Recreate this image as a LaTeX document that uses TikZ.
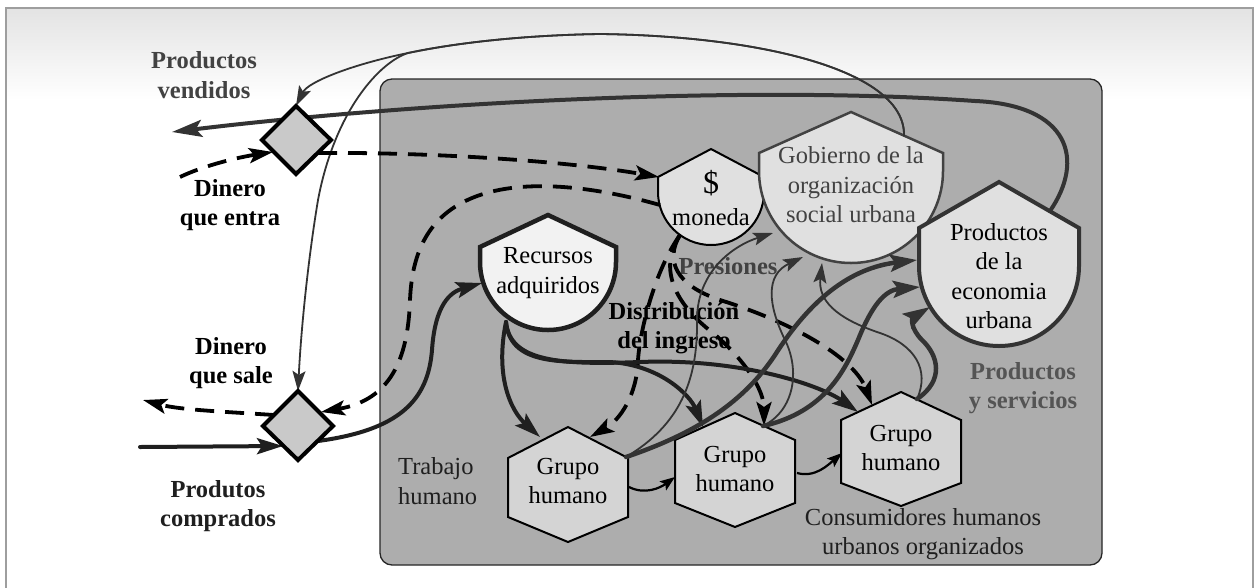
\documentclass[tikz,border=0pt]{standalone}
\usepackage{fontspec}
\setmainfont{Liberation Serif}
\usetikzlibrary{arrows.meta}

\definecolor{boxgray}{gray}{0.68}
\definecolor{hexfill}{gray}{0.83}
\definecolor{shieldfill}{gray}{0.88}
\definecolor{recfill}{gray}{0.95}
\definecolor{diafill}{gray}{0.79}
\definecolor{ink}{gray}{0.12}
\definecolor{inkgray}{gray}{0.2}
\definecolor{lblgray}{gray}{0.26}
\definecolor{pysgray}{gray}{0.33}
\definecolor{framegray}{gray}{0.62}
\definecolor{topshade}{gray}{0.89}

% shield: pointed roof over a half disc
% #1 style, #2 centre x, #3 apex y, #4 shoulder y, #5 disc centre y, #6 radius
\newcommand{\shieldshape}[6]{%
  \draw[#1] ({#2-#6},#4) -- (#2,#3) -- ({#2+#6},#4) -- ({#2+#6},#5)
    .. controls ({#2+#6},{#5+0.5523*#6}) and ({#2+0.5523*#6},{#5+#6}) .. (#2,{#5+#6})
    .. controls ({#2-0.5523*#6},{#5+#6}) and ({#2-#6},{#5+0.5523*#6}) .. ({#2-#6},#5) -- cycle;}

% pointy-top hexagon: #1 centre x, #2 top y, #3 upper side y, #4 lower side y, #5 bottom y, #6 half width
\newcommand{\hexshape}[6]{%
  \draw[hexstyle] (#1,#2) -- ({#1+#6},#3) -- ({#1+#6},#4) -- (#1,#5)
    -- ({#1-#6},#4) -- ({#1-#6},#3) -- cycle;}

\begin{document}
\begin{tikzpicture}[x=1pt,y=-1pt,
  txt/.style={inner sep=0pt, align=center, font=\fontsize{24.5}{29.5}\selectfont},
  btxt/.style={inner sep=0pt, align=center, font=\fontsize{24.5}{29.5}\selectfont\bfseries},
  hexstyle/.style={fill=hexfill, draw=black, line width=2pt, line join=miter},
  diastyle/.style={fill=diafill, draw=black, line width=4pt, line join=miter},
  moneylink/.style={line width=3.8pt, dash pattern=on 19pt off 11pt,
    -{Stealth[length=24pt,width=15pt,inset=5pt]}},
  goodslink/.style={draw=ink, line width=4pt, line cap=round,
    -{Stealth[length=26pt,width=16pt,inset=5pt]}},
  outlink/.style={draw=inkgray, line width=4pt, line cap=round,
    -{Stealth[length=30pt,width=17pt,inset=6pt]}},
  supplylink/.style={draw=inkgray, line width=4.5pt, line cap=round,
    -{Stealth[length=27pt,width=17pt,inset=5pt]}},
  thinlink/.style={draw=inkgray, line width=1.8pt,
    -{Stealth[length=20pt,width=13pt,inset=4pt]}},
  steplink/.style={draw=black, line width=2.2pt,
    -{Stealth[length=15pt,width=11pt,inset=3pt]}}]

\useasboundingbox (0,0) rectangle (1255,587);
\clip (0,0) rectangle (1255,587);

% page frame with a soft band along the top
\fill[white] (0,0) rectangle (1255,587);
\shade[top color=topshade, bottom color=white] (6,8) rectangle (1253,100);
\draw[framegray, line width=1.5pt] (6,8) rectangle (1253,600);

% the urban system
\draw[fill=boxgray, draw=black!85, line width=1.3pt, rounded corners=12pt]
  (380,79) rectangle (1102,565);

% labels
\node[btxt, text=lblgray] (vend) at (204,75) {Productos\\vendidos};
\node[btxt] (entra) at (230,205) {Dinero\\que entra};
\node[btxt] (sale) at (231,363) {Dinero\\que sale};
\node[btxt, text=ink] (comp) at (218,506) {Produtos\\comprados};
\node[txt, align=left, text=ink, anchor=west] (trab) at (398,481) {Trabajo\\humano};
\node[txt, text=ink] (cons) at (923,534) {Consumidores humanos\\urbanos organizados};
\node[btxt, text=pysgray] (pys) at (1023,388) {Productos\\y servicios};
\node[btxt, text=lblgray] (pres) at (728,266) {Presiones};
\node[btxt] (dist) at (674,328) {Distribución\\del ingreso};

% shields
\shieldshape{fill=shieldfill, draw=black, line width=2pt}{711}{149}{177}{192}{53}
\shieldshape{fill=shieldfill, draw=lblgray, line width=2.5pt}{851}{112}{153}{171}{92}
\shieldshape{fill=shieldfill, draw=inkgray, line width=4pt}{999}{182}{228}{266}{80}
\shieldshape{fill=recfill, draw=ink, line width=4.5pt}{548}{215}{247}{262}{68}

\node[txt] (mon-sym) at (711,183) {\fontsize{32}{32}\selectfont\$};
\node[txt] (mon) at (711,217) {moneda};
\node[txt, text=lblgray] (gob) at (851,185) {Gobierno de la\\organización\\social urbana};
\node[txt] (eco) at (999,276) {Productos\\de la\\economia\\urbana};
\node[txt] (rec) at (548,273) {Recursos\\adquiridos};

% human groups
\hexshape{568}{427}{458}{517}{542}{60}
\hexshape{735}{413}{440}{503}{527}{60}
\hexshape{901}{392}{420}{483}{506}{60}
\node[txt] (h1) at (568,481) {Grupo\\humano};
\node[txt] (h2) at (735,469) {Grupo\\humano};
\node[txt] (h3) at (901,448) {Grupo\\humano};

% attachment points
\coordinate (gob-top) at (904,136);
\coordinate (dtop-n) at (296,106);
\coordinate (dbot-n) at (298,391);
\coordinate (vend-end) at (172,132);
\coordinate (eco-roof) at (1050,211);
\coordinate (entra-start) at (180,177);
\coordinate (dtop-sw) at (273,152);
\coordinate (dtop-se) at (318,153);
\coordinate (mon-w) at (659,177);
\coordinate (mon-wl) at (660,205);
\coordinate (mon-s) at (680,235);
\coordinate (dbot-ne) at (321,412);
\coordinate (dbot-nw) at (274,415);
\coordinate (sale-end) at (143,400);
\coordinate (comp-start) at (140,447);
\coordinate (dbot-sw) at (283,446);
\coordinate (dbot-se) at (318,441);
\coordinate (rec-w) at (482,283);
\coordinate (rec-s) at (506,322);
\coordinate (h1-nw) at (540,437);
\coordinate (h1-ne) at (590,437);
\coordinate (h1-c) at (626,457);
\coordinate (h1-e) at (629,487);
\coordinate (h2-nw) at (703,427);
\coordinate (h2-n) at (763,426);
\coordinate (h2-w) at (675,477);
\coordinate (h2-e) at (797,473);
\coordinate (h3-nw) at (858,412);
\coordinate (h3-n) at (872,405);
\coordinate (h3-ne) at (917,399);
\coordinate (h3-w) at (842,453);
\coordinate (gob-s1) at (773,233);
\coordinate (gob-s2) at (803,257);
\coordinate (gob-s3) at (822,263);
\coordinate (eco-w1) at (917,260);
\coordinate (eco-w2) at (920,287);
\coordinate (eco-w3) at (930,307);

% goods leaving the city
\draw[outlink] (eco-roof) .. controls (1085,160) and (1070,105) .. (975,101)
  .. controls (750,85) and (420,102) .. (vend-end);

% thin links from the government over the top
\draw[thinlink] (gob-top) .. controls (906,70) and (760,36) .. (600,34)
  .. controls (535,35) and (465,41) .. (408,53)
  .. controls (351.5,64.5) and (308,82) .. (dtop-n);
\draw[thinlink] (gob-top) .. controls (906,70) and (760,36) .. (600,34)
  .. controls (535,35) and (465,41) .. (408,53)
  .. controls (380,62) and (335,110) .. (318,200)
  .. controls (308,260) and (301,330) .. (dbot-n);

% money
\draw[moneylink] (entra-start) .. controls (205,165) and (240,157) .. (dtop-sw);
\draw[moneylink] (dtop-se) .. controls (420,152) and (560,160) .. (mon-w);
\draw[moneylink] (mon-wl) .. controls (600,188) and (530,178) .. (480,195)
  .. controls (430,212) and (412,250) .. (410,300)
  .. controls (408,360) and (390,400) .. (dbot-ne);
\draw[moneylink] (dbot-nw) .. controls (230,412) and (180,410) .. (sale-end);

% distribution of income
\draw[moneylink] (mon-s) .. controls (655,270) and (640,330) .. (638,360)
  .. controls (637,395) and (620,420) .. (h1-ne);
\draw[moneylink] (mon-s) .. controls (660,265) and (670,300) .. (713,333)
  .. controls (745,360) and (764,390) .. (764,426);
\draw[moneylink] (mon-s) .. controls (665,260) and (675,285) .. (720,300)
  .. controls (800,325) and (855,360) .. (h3-n);

% goods bought and resources
\draw[goodslink] (comp-start) -- (dbot-sw);
\draw[goodslink] (dbot-se) .. controls (400,430) and (428,400) .. (432,350)
  .. controls (435,305) and (450,292) .. (rec-w);
\draw[goodslink] (rec-s) .. controls (495,375) and (510,410) .. (h1-nw);
\draw[goodslink] (rec-s) .. controls (510,365) and (560,362) .. (610,362)
  .. controls (660,365) and (690,395) .. (h2-nw);
\draw[goodslink] (rec-s) .. controls (510,362) and (560,365) .. (640,362)
  .. controls (740,358) and (820,385) .. (h3-nw);

% pressures on the government
\draw[thinlink] (h1-c) .. controls (680,425) and (698,380) .. (697,320)
  .. controls (697,270) and (735,245) .. (gob-s1);
\draw[thinlink] (h2-n) .. controls (795,410) and (800,370) .. (785,340)
  .. controls (768,305) and (765,275) .. (gob-s2);
\draw[thinlink] (h3-ne) .. controls (930,370) and (915,345) .. (880,333)
  .. controls (835,318) and (818,300) .. (gob-s3);

% products and services
\draw[supplylink] (h1-c) .. controls (700,432) and (745,400) .. (775,355)
  .. controls (810,300) and (850,268) .. (eco-w1);
\draw[supplylink] (h2-n) .. controls (825,412) and (845,370) .. (858,340)
  .. controls (872,305) and (885,290) .. (eco-w2);
\draw[supplylink] (h3-ne) .. controls (945,380) and (938,355) .. (922,340)
  .. controls (910,328) and (912,318) .. (eco-w3);

% work passed between groups
\draw[steplink] (h1-e) .. controls (645,495) and (660,488) .. (h2-w);
\draw[steplink] (h2-e) .. controls (815,478) and (828,465) .. (h3-w);

% exchange points at the city border
\draw[diastyle] (296,106) -- (331,140) -- (296,174) -- (262,140) -- cycle;
\draw[diastyle] (298,391) -- (333,426) -- (298,460) -- (263,426) -- cycle;

\end{tikzpicture}
\end{document}
